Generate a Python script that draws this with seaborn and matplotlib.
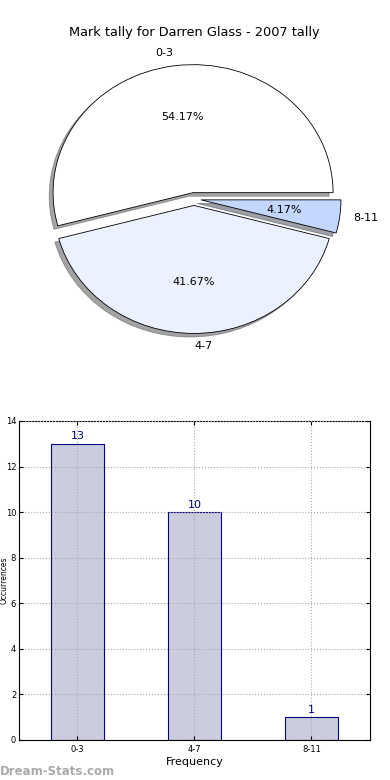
import matplotlib
matplotlib.use('Agg')
import matplotlib.pyplot as plt
import seaborn as sns
import pandas as pd

# Data
categories = ['0-3', '4-7', '8-11']
counts = [13, 10, 1]
pie_colors = ['#ffffff', '#ebf1ff', '#c4d7ff']
explode = [0.05, 0.05, 0.05]

sns.set_style('white')
plt.rcParams['font.family'] = ['DejaVu Sans']
plt.rcParams['text.color'] = 'black'
plt.rcParams['axes.labelcolor'] = 'black'
plt.rcParams['xtick.color'] = 'black'
plt.rcParams['ytick.color'] = 'black'

fig = plt.figure(figsize=(3.9, 7.8), dpi=100)

# Pie chart (top)
ax_pie = fig.add_axes([0.0487, 0.5397, 0.8974, 0.4103])
wedges, texts, autotexts = ax_pie.pie(
    counts, labels=categories, colors=pie_colors, explode=explode,
    autopct='%1.2f%%', shadow=True, startangle=0,
    wedgeprops={'edgecolor': 'black', 'linewidth': 0.6},
    textprops={'fontsize': 8, 'color': 'black'})
ax_pie.set_aspect('auto')
ax_pie.set_xlim(-1.25, 1.25)
ax_pie.set_ylim(-1.25, 1.25)
ax_pie.set_title('Mark tally for Darren Glass - 2007 tally', fontsize=9.3,
                 pad=-3, color='black')

# Bar chart (bottom)
df = pd.DataFrame({'range': categories, 'count': counts})
ax_bar = fig.add_axes([0.0487, 0.0513, 0.9, 0.409])
sns.barplot(data=df, x='range', y='count', ax=ax_bar, color='#ccccdf',
            saturation=1, width=0.45, edgecolor='#000080', linewidth=0.8)
ax_bar.set_xlim(-0.5, 2.5)
ax_bar.set_ylim(0, 14)
ax_bar.set_yticks(range(0, 15, 2))
ax_bar.grid(True, linestyle=':', color='#aaaaaa', linewidth=0.8)
ax_bar.set_axisbelow(False)
for spine in ax_bar.spines.values():
    spine.set_color('black')
    spine.set_linewidth(0.8)
ax_bar.tick_params(axis='both', labelsize=6, direction='in', length=3,
                   top=True, right=True, bottom=True, left=True)
ax_bar.tick_params(axis='y', pad=2)
ax_bar.set_xlabel('Frequency', fontsize=8, labelpad=2)
ax_bar.set_ylabel('Occurrences', fontsize=5.5)
ax_bar.yaxis.set_label_coords(-0.029, 0.5)

# Value labels above bars
for i, v in enumerate(counts):
    ax_bar.text(i, v + 0.1, str(v), ha='center', va='bottom',
                fontsize=8, color='#000080')

fig.text(0.0, 0.003, 'Dream-Stats.com', fontsize=8.5, color='#aaaaaa',
         fontweight='bold', ha='left', va='bottom')

fig.savefig('out.png', dpi=100)
